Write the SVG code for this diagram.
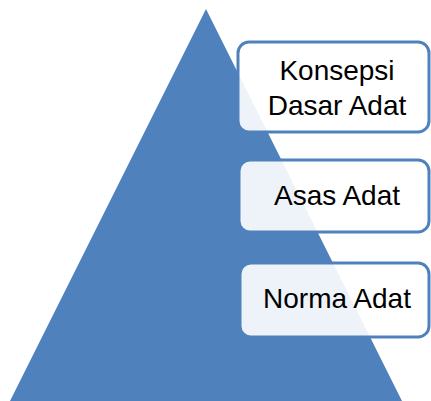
<svg xmlns="http://www.w3.org/2000/svg" width="431" height="401" viewBox="0 0 431 401">
<style>
.box{fill:#ffffff;fill-opacity:0.9;stroke:#4f81bd;stroke-width:3}
.lbl{font-family:"Liberation Sans",Arial,sans-serif;font-size:28px;fill:#000;text-anchor:middle}
</style>
<rect width="431" height="401" fill="#ffffff"/>
<g id="pyramid"><polygon points="206,9 10,401 402,401" fill="#4f81bd"/></g>
<g id="connectors"></g>
<g id="n1"><rect class="box" x="238" y="42" width="191" height="90" rx="11"/><text class="lbl" x="337" y="80">Konsepsi</text><text class="lbl" x="337" y="115">Dasar Adat</text></g>
<g id="n2"><rect class="box" x="239" y="160" width="190" height="72" rx="11"/><text class="lbl" x="337" y="205">Asas Adat</text></g>
<g id="n3"><rect class="box" x="240" y="263" width="189" height="74" rx="11"/><text class="lbl" x="337" y="308">Norma Adat</text></g>
</svg>
